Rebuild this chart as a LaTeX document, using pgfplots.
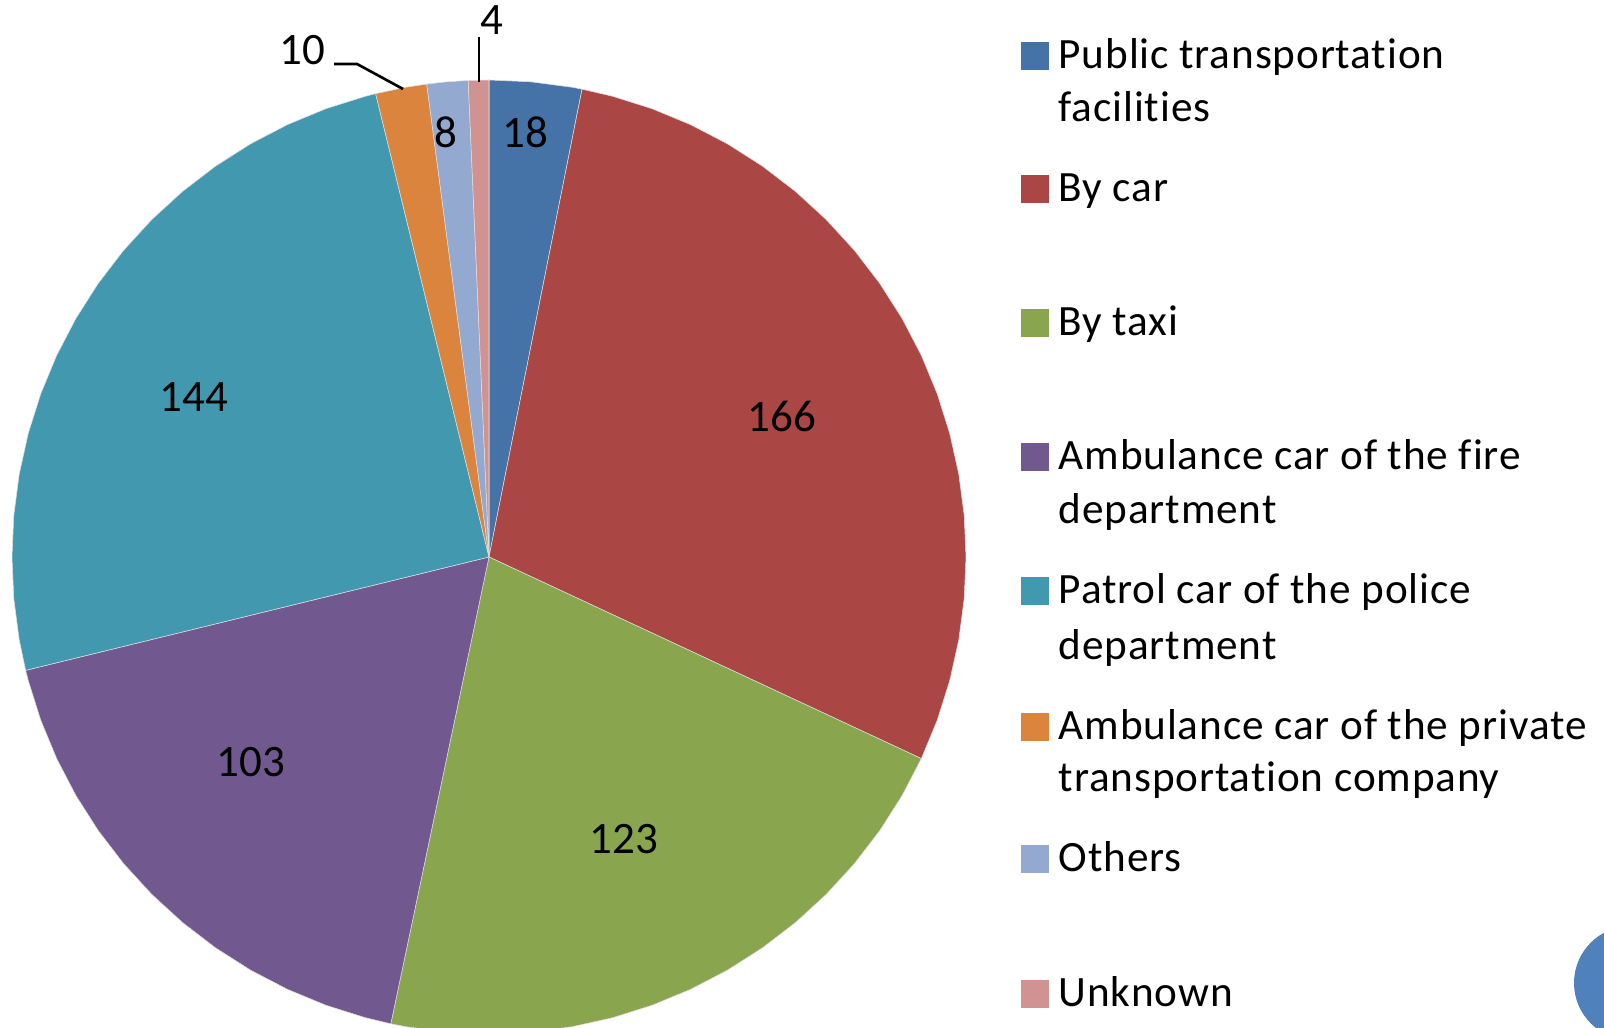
\documentclass[border=0pt]{standalone}
\usepackage{pgfplots}
\pgfplotsset{compat=1.18}
\usepgfplotslibrary{polar}
\usepackage{fontspec}
\setmainfont{Carlito}[Ligatures={NoCommon}]
\definecolor{c1}{HTML}{4572A7}
\definecolor{c2}{HTML}{AA4643}
\definecolor{c3}{HTML}{89A54E}
\definecolor{c4}{HTML}{71588F}
\definecolor{c5}{HTML}{4198AF}
\definecolor{c6}{HTML}{DB843D}
\definecolor{c7}{HTML}{93A9CF}
\definecolor{c8}{HTML}{D19392}
\definecolor{deco}{HTML}{4F81BD}
\begin{document}
\begin{tikzpicture}
\path[use as bounding box] (0,0) rectangle (160.4mm,102.8mm);
\clip (0,0) rectangle (160.4mm,102.8mm);
\fill[deco] (163.1mm,4.5mm) circle[radius=5.7mm];
% values: 18,166,123,103,144,10,8,4 (total 576, 0.625 deg per unit), clockwise from top
\begin{polaraxis}[at={(48.9mm,47.1mm)}, anchor=center, scale only axis,
  width=95.4mm, height=95.4mm, ymin=0, ymax=1,
  hide axis, clip=false]
% 18
\addplot[fill=c1, draw=white!75!gray, line width=0.15pt] coordinates {(0,0) (90,1) (85,1) (80,1) (78.75,1) (0,0)};
% 166
\addplot[fill=c2, draw=white!75!gray, line width=0.15pt] coordinates {(0,0) (78.75,1) (75,1) (70,1) (65,1) (60,1) (55,1) (50,1) (45,1) (40,1) (35,1) (30,1) (25,1) (20,1) (15,1) (10,1) (5,1) (0,1) (355,1) (350,1) (345,1) (340,1) (335,1) (0,0)};
% 123
\addplot[fill=c3, draw=white!75!gray, line width=0.15pt] coordinates {(0,0) (335,1) (330,1) (325,1) (320,1) (315,1) (310,1) (305,1) (300,1) (295,1) (290,1) (285,1) (280,1) (275,1) (270,1) (265,1) (260,1) (258.125,1) (0,0)};
% 103
\addplot[fill=c4, draw=white!75!gray, line width=0.15pt] coordinates {(0,0) (258.125,1) (255,1) (250,1) (245,1) (240,1) (235,1) (230,1) (225,1) (220,1) (215,1) (210,1) (205,1) (200,1) (195,1) (193.75,1) (0,0)};
% 144
\addplot[fill=c5, draw=white!75!gray, line width=0.15pt] coordinates {(0,0) (193.75,1) (190,1) (185,1) (180,1) (175,1) (170,1) (165,1) (160,1) (155,1) (150,1) (145,1) (140,1) (135,1) (130,1) (125,1) (120,1) (115,1) (110,1) (105,1) (103.75,1) (0,0)};
% 10
\addplot[fill=c6, draw=white!75!gray, line width=0.15pt] coordinates {(0,0) (103.75,1) (100,1) (97.5,1) (0,0)};
% 8
\addplot[fill=c7, draw=white!75!gray, line width=0.15pt] coordinates {(0,0) (97.5,1) (95,1) (92.5,1) (0,0)};
% 4
\addplot[fill=c8, draw=white!75!gray, line width=0.15pt] coordinates {(0,0) (92.5,1) (90,1) (0,0)};
\end{polaraxis}
\begin{scope}[x=0.1mm,y=0.1mm]
\fontsize{12.8}{15.1}\selectfont
% data labels
\node[anchor=center, inner sep=0pt] at (525,896) {18};
\node[anchor=center, inner sep=0pt] at (446,896) {8};
\node[anchor=center, inner sep=0pt] at (492,1008) {4};
\node[anchor=center, inner sep=0pt] at (302,978) {10};
\node[anchor=center, inner sep=0pt] at (782,612) {166};
\node[anchor=center, inner sep=0pt] at (624,189) {123};
\node[anchor=center, inner sep=0pt] at (251,266) {103};
\node[anchor=center, inner sep=0pt] at (194,631) {144};
\draw[line width=0.75pt] (334,964) -- (357,964) -- (403,939);
\draw[line width=0.75pt] (479,991) -- (479,946);
% legend
\fontsize{12.3}{15.1}\selectfont
\foreach \c/\y in {c1/959, c2/826, c3/692, c4/558, c5/424, c6/288, c7/156, c8/21}
  \fill[\c] (1021,\y-1) rectangle (1049,\y+27);
\addfontfeatures{LetterSpace=2}
\node[anchor=base west, inner sep=0pt] at (1058,959) {Public transportation};
\node[anchor=base west, inner sep=0pt] at (1058,906) {facilities};
\node[anchor=base west, inner sep=0pt] at (1058,826) {By car};
\node[anchor=base west, inner sep=0pt] at (1058,692) {By taxi};
\node[anchor=base west, inner sep=0pt] at (1058,558) {Ambulance car of the fire};
\node[anchor=base west, inner sep=0pt] at (1058,504) {department};
\node[anchor=base west, inner sep=0pt] at (1058,424) {Patrol car of the police};
\node[anchor=base west, inner sep=0pt] at (1058,368) {department};
\node[anchor=base west, inner sep=0pt] at (1058,288) {Ambulance car of the private};
\node[anchor=base west, inner sep=0pt] at (1058,236) {transportation company};
\node[anchor=base west, inner sep=0pt] at (1058,156) {Others};
\node[anchor=base west, inner sep=0pt] at (1058,21) {Unknown};
\end{scope}
\end{tikzpicture}
\end{document}
